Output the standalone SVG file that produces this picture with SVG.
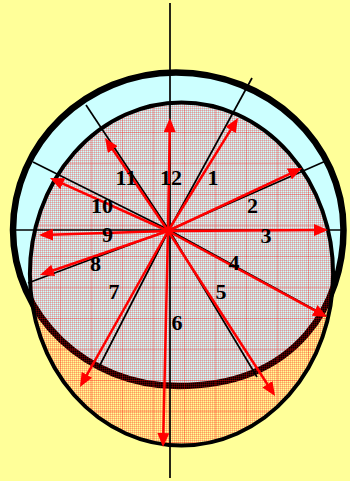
<svg xmlns="http://www.w3.org/2000/svg" width="350" height="481" viewBox="0 0 350 481">
<style>
.axis{stroke:#000;stroke-width:1.7;fill:none}
.arrow{stroke:#ff0000;stroke-width:2.5;fill:none;marker-end:url(#ah)}
.lbl{font-family:"Liberation Serif","Times New Roman",serif;font-weight:bold;font-size:22px;fill:#000;text-anchor:middle}
</style>
<defs>
<marker id="ah" viewBox="0 0 14 12" markerWidth="14" markerHeight="12" markerUnits="userSpaceOnUse" refX="11" refY="6" orient="auto">
<path d="M0,0 L14,6 L0,12 Z" fill="#ff0000"/>
</marker>
<pattern id="mesh" x="0" y="0" width="2" height="2" patternUnits="userSpaceOnUse">
<rect x="0" y="0" width="2" height="1" fill="#ff0000" fill-opacity="0.22"/>
<rect x="0" y="0" width="1" height="2" fill="#ff0000" fill-opacity="0.22"/>
</pattern>
<pattern id="grid" x="29" y="8" width="31" height="31" patternUnits="userSpaceOnUse">
<rect x="0" y="0" width="31" height="1" fill="#ff0000" fill-opacity="0.22"/>
<rect x="0" y="0" width="1" height="31" fill="#ff0000" fill-opacity="0.22"/>
</pattern>
</defs>
<rect width="350" height="481" fill="#ffff99"/>
<g id="outer-ring">
<path d="M176,72.5 C268.5,72.5 343.5,143 343.5,230 C343.5,300 300,386 178,386 C87,386 13,316 13,230 C13,143 86,72.5 176,72.5 Z" fill="#ccffff" stroke="#000" stroke-width="6.5"/>
</g>
<g id="inner-ellipse">
<ellipse cx="181.5" cy="274" rx="151.6" ry="171.5" fill="url(#mesh)"/>
<ellipse cx="181.5" cy="274" rx="151.6" ry="171.5" fill="url(#grid)"/>
<ellipse cx="181.5" cy="274" rx="151.6" ry="171.5" fill="none" stroke="#000" stroke-width="4"/>
</g>
<g id="connectors">
<line class="axis" x1="170" y1="3" x2="170" y2="478"/>
<line class="axis" x1="13" y1="230" x2="343" y2="230"/>
<line class="axis" x1="169" y1="230" x2="252" y2="78"/>
<line class="axis" x1="169" y1="230" x2="328" y2="160"/>
<line class="axis" x1="169" y1="230" x2="326" y2="316"/>
<line class="axis" x1="169" y1="230" x2="257" y2="377"/>
<line class="axis" x1="169" y1="230" x2="99" y2="367"/>
<line class="axis" x1="169" y1="230" x2="28" y2="283"/>
<line class="axis" x1="169" y1="230" x2="33" y2="162"/>
<line class="axis" x1="169" y1="230" x2="86" y2="105"/>
<line class="arrow" x1="168" y1="231" x2="236.4" y2="120.6"/>
<line class="arrow" x1="168" y1="231" x2="299.3" y2="169.3"/>
<line class="arrow" x1="168" y1="231" x2="325" y2="230"/>
<line class="arrow" x1="168" y1="231" x2="324.4" y2="315.6"/>
<line class="arrow" x1="168" y1="231" x2="273.4" y2="393.5"/>
<line class="arrow" x1="168" y1="231" x2="163.1" y2="444"/>
<line class="arrow" x1="168" y1="231" x2="81.5" y2="384.4"/>
<line class="arrow" x1="168" y1="231" x2="42.8" y2="274"/>
<line class="arrow" x1="168" y1="231" x2="42" y2="234.9"/>
<line class="arrow" x1="168" y1="231" x2="52.7" y2="179.2"/>
<line class="arrow" x1="168" y1="231" x2="106.7" y2="140.5"/>
<line class="arrow" x1="168" y1="231" x2="169.9" y2="121"/>
</g>
<g id="labels">
<text class="lbl" x="126" y="185">11</text>
<text class="lbl" x="171" y="185">12</text>
<text class="lbl" x="213" y="185">1</text>
<text class="lbl" x="102" y="213">10</text>
<text class="lbl" x="252.5" y="213">2</text>
<text class="lbl" x="107.5" y="242">9</text>
<text class="lbl" x="266" y="243">3</text>
<text class="lbl" x="95.5" y="271">8</text>
<text class="lbl" x="234" y="270">4</text>
<text class="lbl" x="114" y="299">7</text>
<text class="lbl" x="221" y="299">5</text>
<text class="lbl" x="177" y="330">6</text>
</g>
</svg>
